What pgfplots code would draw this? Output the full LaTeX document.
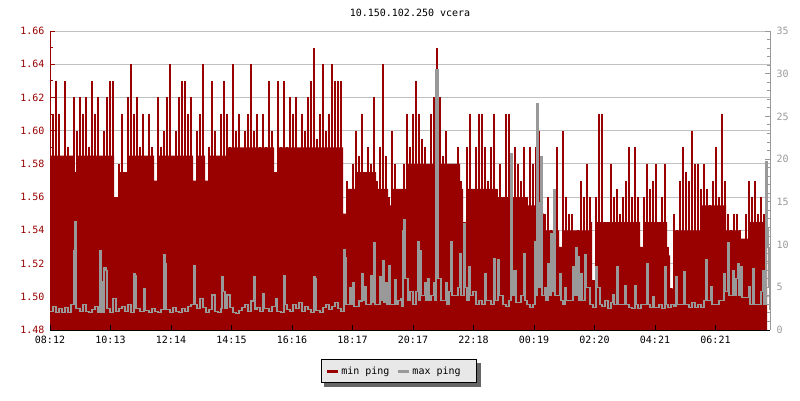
\documentclass[border=0pt]{standalone}
\usepackage{fontspec}
\setmainfont{DejaVu Sans Mono}
\usepackage{pgfplots}
\pgfplotsset{compat=1.18}
\usepackage{pgfplotstable}
\definecolor{dred}{HTML}{990000}
\definecolor{pgray}{HTML}{999999}
\definecolor{gridgray}{HTML}{C0C0C0}
\definecolor{leggray}{HTML}{E8E8E8}
\definecolor{shadowgray}{HTML}{666666}
\pgfdeclarelayer{bg}
\pgfsetlayers{bg,main}

% min ping, solid lower level of the red band
\pgfplotstableread{
x v
0 1.585
24 1.575
27 1.585
64 1.56
68 1.575
78 1.585
104 1.57
107 1.585
143 1.57
146 1.585
155 1.57
158 1.585
178 1.59
224 1.575
227 1.59
293 1.55
296 1.565
306 1.575
326 1.565
338 1.555
341 1.565
358 1.58
392 1.58
410 1.565
413 1.545
416 1.565
446 1.56
476 1.555
490 1.55
494 1.54
509 1.53
512 1.54
540 1.545
542 1.51
545 1.545
590 1.53
593 1.545
617 1.525
620 1.505
623 1.54
650 1.555
676 1.54
690 1.535
700 1.545
717 1.545
}\minbase

% min ping, individual peaks
\pgfplotstableread{
x v
0 1.60
3 1.61
6 1.63
9 1.61
12 1.585
15 1.63
18 1.59
21 1.585
24 1.62
27 1.60
30 1.62
33 1.61
36 1.62
39 1.59
42 1.63
45 1.61
48 1.62
51 1.58
54 1.60
57 1.62
60 1.63
63 1.63
66 1.56
69 1.58
72 1.61
75 1.57
78 1.62
81 1.64
84 1.61
87 1.62
90 1.59
93 1.61
96 1.585
99 1.61
102 1.59
105 1.57
108 1.62
111 1.59
114 1.60
117 1.62
120 1.64
123 1.58
126 1.60
129 1.62
132 1.63
135 1.63
138 1.61
141 1.62
144 1.57
147 1.60
150 1.61
153 1.64
156 1.57
159 1.59
162 1.63
165 1.60
168 1.58
171 1.61
174 1.63
177 1.61
180 1.59
183 1.64
186 1.60
189 1.61
192 1.585
195 1.60
198 1.61
201 1.64
204 1.60
207 1.61
210 1.59
213 1.61
216 1.59
219 1.63
222 1.60
225 1.575
228 1.63
231 1.59
234 1.63
237 1.59
240 1.62
243 1.61
246 1.62
249 1.585
252 1.61
255 1.60
258 1.62
261 1.63
264 1.65
267 1.595
270 1.61
273 1.64
276 1.60
279 1.61
282 1.64
285 1.63
288 1.63
291 1.63
294 1.55
297 1.57
300 1.56
303 1.58
306 1.60
309 1.585
312 1.61
315 1.575
318 1.59
321 1.58
324 1.62
327 1.57
330 1.59
333 1.64
336 1.585
339 1.56
342 1.60
345 1.58
348 1.565
351 1.56
354 1.58
357 1.61
360 1.59
363 1.61
366 1.63
369 1.61
372 1.595
375 1.59
378 1.58
381 1.61
384 1.62
387 1.65
390 1.62
393 1.585
396 1.60
399 1.58
402 1.575
405 1.58
408 1.59
411 1.57
414 1.545
417 1.59
420 1.61
423 1.565
426 1.59
429 1.61
432 1.61
435 1.59
438 1.57
441 1.59
444 1.61
447 1.565
450 1.58
453 1.56
456 1.61
459 1.61
462 1.585
465 1.59
468 1.58
471 1.57
474 1.59
477 1.56
480 1.59
483 1.58
486 1.59
489 1.60
492 1.57
495 1.55
498 1.56
501 1.54
504 1.56
507 1.59
510 1.53
513 1.60
516 1.56
519 1.55
522 1.55
525 1.53
528 1.54
531 1.57
534 1.56
537 1.58
540 1.56
543 1.51
546 1.56
549 1.61
552 1.61
555 1.545
558 1.545
561 1.58
564 1.56
567 1.565
570 1.55
573 1.56
576 1.57
579 1.59
582 1.56
585 1.59
588 1.56
591 1.53
594 1.56
597 1.58
600 1.565
603 1.57
606 1.58
609 1.545
612 1.56
615 1.58
618 1.53
621 1.505
624 1.55
627 1.54
630 1.57
633 1.59
636 1.575
639 1.57
642 1.60
645 1.58
648 1.58
651 1.565
654 1.58
657 1.565
660 1.555
663 1.57
666 1.59
669 1.56
672 1.61
675 1.57
678 1.55
681 1.54
684 1.55
687 1.55
690 1.54
693 1.535
696 1.55
699 1.57
702 1.56
705 1.57
708 1.55
711 1.56
714 1.55
716 1.58
}\minping

\pgfplotstableread{
x v
0 2.2
3 2.8
6 2.0
9 2.5
12 2.0
15 2.6
18 2.0
21 3.0
24 9.3
25 12.7
26 2.5
30 2.2
33 3.0
36 2.2
39 2.0
42 2.4
45 2.8
48 2.0
50 9.3
51 5.7
52 2.0
54 7.3
56 7.0
57 2.5
60 2.0
63 3.7
66 2.2
69 2.5
72 2.8
75 2.2
78 3.0
81 2.0
84 6.6
85 6.4
86 2.5
90 2.2
94 4.8
95 2.3
99 2.0
102 2.5
105 2.2
108 2.0
111 2.4
114 8.8
115 7.8
116 2.4
120 2.0
123 2.6
126 2.2
129 2.0
132 2.5
135 2.2
138 2.8
141 3.0
144 7.6
145 3.0
147 2.5
150 3.7
153 2.6
156 2.0
159 2.4
162 4.1
165 2.2
168 2.0
171 2.5
172 6.2
173 4.5
175 2.5
177 4.1
180 2.6
183 2.0
186 1.9
189 2.3
192 2.6
195 3.0
198 2.2
201 3.4
204 6.3
205 2.4
207 2.6
210 2.2
213 4.3
214 2.5
216 2.5
219 2.2
222 2.8
226 3.7
227 2.2
231 2.0
234 6.4
235 3.0
237 2.4
240 2.2
243 3.0
246 2.5
249 3.2
252 2.2
255 2.8
258 2.4
261 2.0
264 6.2
265 6.0
266 2.3
270 2.0
273 2.6
276 3.0
279 2.4
282 2.8
285 3.2
288 2.5
291 2.2
294 9.4
295 8.5
296 3.0
300 5.0
301 3.0
303 5.5
304 2.8
306 2.8
309 3.4
312 6.6
313 3.5
315 5.1
316 3.0
318 3.0
321 6.4
322 3.2
324 10.2
325 3.0
327 3.0
330 6.2
331 3.5
333 8.1
334 3.2
336 5.5
337 3.0
339 7.5
340 3.0
342 3.0
345 5.9
346 3.0
348 3.5
351 3.7
352 2.8
353 11.7
354 12.9
355 6.0
357 6.0
358 3.5
360 4.5
363 3.0
366 4.5
368 10.4
369 3.5
370 9.3
371 4.0
375 5.5
376 3.5
378 6.0
379 3.5
381 4.0
384 5.5
385 3.5
386 30.5
387 30.5
388 6.0
390 6.0
391 3.5
393 3.5
396 5.5
397 3.0
399 4.5
401 10.3
402 4.0
405 4.0
408 5.0
410 9.0
411 4.0
414 12.5
415 5.0
417 3.5
419 7.4
420 4.0
423 4.5
426 3.0
429 3.5
432 3.0
435 6.6
436 3.5
438 3.5
441 3.0
444 8.4
445 3.5
448 8.2
449 4.0
450 4.0
453 3.0
456 2.8
459 3.5
461 20.7
462 4.0
464 7.0
465 7.0
466 3.2
468 3.2
471 4.0
474 9.0
475 3.5
477 3.0
480 2.6
483 3.0
485 10.3
486 4.0
487 26.5
488 5.0
489 14.9
490 5.0
491 20.3
492 4.0
495 5.0
496 3.5
498 7.8
499 4.0
501 11.3
502 4.5
504 16.4
505 4.0
507 4.0
510 6.6
511 3.5
513 3.0
515 5.0
516 3.5
519 3.5
523 7.4
524 4.0
526 9.7
527 4.0
528 8.6
529 3.5
531 6.6
532 3.5
535 8.8
536 5.0
538 5.0
540 3.0
543 2.6
546 7.4
547 5.0
549 5.0
550 3.0
552 2.8
555 3.5
558 2.5
561 3.2
563 4.1
564 3.0
567 7.4
568 3.0
570 3.0
575 5.2
576 3.0
579 2.6
582 2.5
585 5.2
586 3.0
588 2.5
591 3.0
594 3.0
597 7.8
598 3.0
600 2.6
603 3.9
604 2.6
606 2.6
609 3.0
612 2.5
615 7.4
616 3.0
618 2.6
621 3.0
624 2.8
626 6.2
627 3.0
630 3.0
634 6.8
635 3.0
636 3.0
639 2.6
642 3.2
645 2.6
648 3.0
651 2.6
654 3.5
656 8.3
657 3.5
660 3.5
661 5.1
662 3.0
666 3.0
669 3.5
674 6.6
675 4.5
678 10.2
679 4.0
681 4.0
683 7.0
684 4.0
686 6.0
688 7.8
689 4.0
691 7.4
692 3.8
696 3.8
699 5.1
700 3.0
702 3.0
703 7.2
704 3.0
708 3.0
711 4.5
713 7.0
714 3.0
716 19.7
717 12.0
718 9.7
719 5.0
720 2.3
}\maxping

\begin{document}
\begin{tikzpicture}
\path[use as bounding box] (0pt,0pt) rectangle (800pt,400pt);
\begin{axis}[
  at={(50pt,70pt)}, anchor=south west,
  scale only axis, width=720pt, height=299pt,
  xmin=0, xmax=720, ymin=1.48, ymax=1.66,
  axis x line*=bottom, axis y line*=left,
  x axis line style={black,-,line width=1pt},
  y axis line style={dred,-,line width=1pt},
  xtick={0,60.5,121,181.5,242,302.5,363,423.5,484,544.5,605,665.5},
  xticklabels={08:12,10:13,12:14,14:15,16:16,18:17,20:17,22:18,00:19,02:20,04:21,06:21},
  xticklabel style={yshift=-3pt},
  ytick={1.48,1.50,1.52,1.54,1.56,1.58,1.60,1.62,1.64,1.66},
  minor y tick num=1,
  tick align=inside,
  major tick length=5pt, minor tick length=3pt,
  xtick style={black,line width=1pt},
  ytick style={dred,line width=1pt},
  minor y tick style={dred,line width=1pt},
  ymajorgrids,
  major grid style={gridgray,line width=0.9pt},
  yticklabel style={dred,xshift=-2pt,/pgf/number format/.cd,fixed,fixed zerofill,precision=2},
  /pgf/number format/assume math mode=true,
]
\addplot[const plot, fill=dred, draw=none] table[x=x,y=v]{\minbase} \closedcycle;
\addplot[ycomb, dred, line width=2.1pt, mark=none] table[x=x,y=v]{\minping};
\end{axis}
\begin{axis}[
  at={(50pt,70pt)}, anchor=south west,
  scale only axis, width=720pt, height=299pt,
  xmin=0, xmax=720, ymin=0, ymax=35,
  axis x line*=bottom, axis y line*=right,
  x axis line style={black,-,line width=1pt},
  y axis line style={pgray,-,line width=1pt},
  xtick={0,60.5,121,181.5,242,302.5,363,423.5,484,544.5,605,665.5},
  xticklabels={},
  ytick={0,5,10,15,20,25,30,35},
  minor y tick num=4,
  tick align=inside,
  major tick length=5pt, minor tick length=3pt,
  xtick style={black,line width=1pt},
  ytick style={pgray,line width=1pt},
  minor y tick style={pgray,line width=1pt},
  yticklabel style={pgray,xshift=3pt},
  /pgf/number format/assume math mode=true,
  axis on top,
  legend columns=2,
  legend style={at={(0.4847,-0.097)}, anchor=north, draw=black, line width=1pt,
    fill=leggray, name=leg,
    inner xsep=4pt, inner ysep=5pt,
    /tikz/every even column/.append style={column sep=5pt}},
  legend image code/.code={\draw[#1] (0pt,0pt) -- (11pt,0pt);},
  legend entries={min ping,max ping\hspace*{10pt}},
]
\addlegendimage{dred, line width=3pt}
\addlegendimage{pgray, line width=3pt}
\addplot[const plot, pgray, line width=1.1pt, forget plot] table[x=x,y=v]{\maxping};
\end{axis}
\begin{pgfonlayer}{bg}
\fill[shadowgray] ([shift={(3.5pt,-3.5pt)}]leg.south west) rectangle ([shift={(3.5pt,-3.5pt)}]leg.north east);
\end{pgfonlayer}
\node at (410pt,387pt) {10.150.102.250 vcera};
\end{tikzpicture}
\end{document}
